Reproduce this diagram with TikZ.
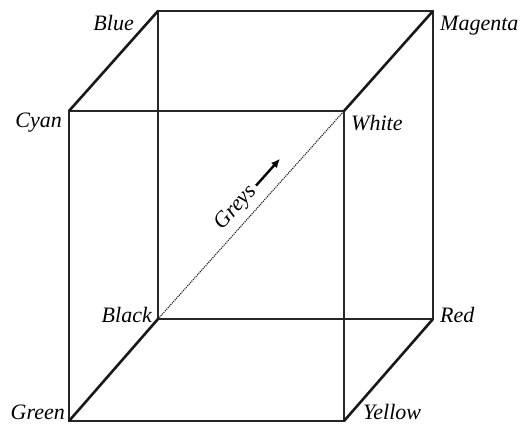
\documentclass[tikz,border=0pt]{standalone}
\usepackage{fontspec}
\setmainfont{Liberation Serif}
\usepackage{tikz}
\usetikzlibrary{arrows.meta, calc}

\begin{document}
\begin{tikzpicture}[x=1pt, y=-1pt,
	edge/.style={line width=1.6pt, black!85},
	depth/.style={line width=2.6pt, black!90},
	grey/.style={line width=1.1pt, densely dotted, black!90},
	lbl/.style={font=\fontsize{22}{24}\selectfont\itshape, inner sep=0pt},
	gar/.style={-{Latex[length=9pt, width=8pt]}, line width=2.4pt}]

	\useasboundingbox (0,0) rectangle (524,425);

	% corners of the cube
	\coordinate (blue)    at (158,11);
	\coordinate (magenta) at (433,11);
	\coordinate (cyan)    at (69,111);
	\coordinate (white)   at (344,111);
	\coordinate (black)   at (158,319);
	\coordinate (red)     at (433,319);
	\coordinate (green)   at (69,421);
	\coordinate (yellow)  at (344,421);

	% back and front faces
	\draw[edge] (blue) -- (magenta) -- (red) -- (black) -- cycle;
	\draw[edge] (cyan) -- (white) -- (yellow) -- (green) -- cycle;
	\draw[depth] (cyan)--(blue); \draw[depth] (white)--(magenta);
	\draw[depth] (green)--(black); \draw[depth] (yellow)--(red);

	% grey axis
	\draw[grey] (black) -- (white);

	\node[lbl, anchor=base east] (lblue)    at (134,31)  {Blue};
	\node[lbl, anchor=base west] (lmagenta) at (440,31)  {Magenta};
	\node[lbl, anchor=base east] (lcyan)    at (62,128)  {Cyan};
	\node[lbl, anchor=base west] (lwhite)   at (351,130) {White};
	\node[lbl, anchor=base east] (lblack)   at (152,322) {Black};
	\node[lbl, anchor=base west] (lred)     at (440,322) {Red};
	\node[lbl, anchor=base east] (lgreen)   at (65,419)  {Green};
	\node[lbl, anchor=base west] (lyellow)  at (363,419) {Yellow};

	\node[lbl, rotate=48.2] (greys) at (236,208) {Greys};
	\coordinate (g1) at ($(greys.east)+(48.2:4pt)$);
	\coordinate (g2) at ($(greys.east)+(48.2:40pt)$);
	\draw[gar] (g1) -- (g2);
\end{tikzpicture}
\end{document}
